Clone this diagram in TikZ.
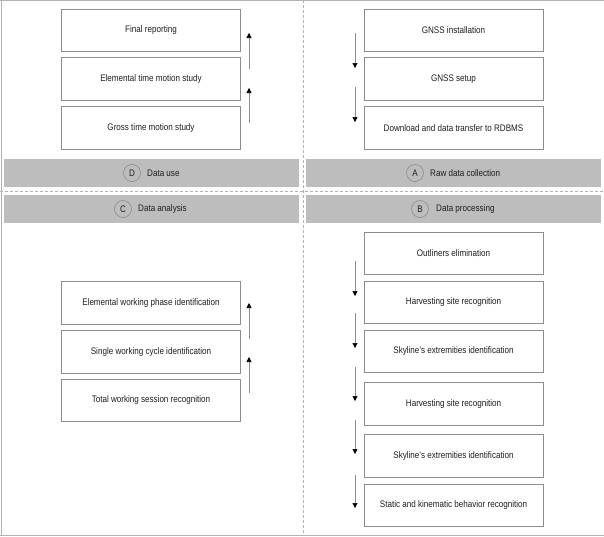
\documentclass[tikz,border=0pt]{standalone}
\usepackage{fontspec}
\setmainfont[FakeStretch=0.85]{Liberation Sans}
\usetikzlibrary{arrows.meta}
\definecolor{boxline}{gray}{0.55}
\definecolor{barfill}{gray}{0.74}
\definecolor{txt}{gray}{0.12}
\begin{document}
\begin{tikzpicture}[x=1pt,y=-1pt,
  stepbox/.style={draw=boxline,line width=0.6pt,fill=white,minimum width=179pt,minimum height=42.5pt,inner sep=0pt,font=\fontsize{9.5}{11}\selectfont,text=txt},
  bar/.style={fill=barfill,draw=none,minimum width=295pt,minimum height=28pt,inner sep=0pt},
  letter/.style={circle,draw=boxline,line width=0.6pt,minimum size=17pt,inner sep=0pt,font=\fontsize{9.5}{11}\selectfont,text=txt},
  bartext/.style={font=\fontsize{9.5}{11}\selectfont,text=txt,inner sep=0pt,anchor=west},
  flow/.style={draw=boxline,line width=0.6pt,-{Triangle[width=5pt,length=5pt,color=black]}},
  divider/.style={draw=gray!60,line width=0.7pt,dash pattern=on 3pt off 2pt},
  frame/.style={draw=gray!60,line width=1pt}]
\useasboundingbox (0,0) rectangle (604,536);
% frame
\draw[frame] (0,0.5) -- (604,0.5);
\draw[frame] (1,0) -- (1,536);
\draw[frame] (0,535) -- (604,535);
% dividers
\draw[divider] (303,0) -- (303,536);
\draw[divider] (0,191) -- (604,191);
% bars
\node[bar] (barD) at (151.5,173) {};
\node[bar] (barC) at (151.5,209) {};
\node[bar] (barA) at (453.5,173) {};
\node[bar] (barB) at (453.5,209) {};
\node[letter,fill=barfill] (cD) at (132,173) {D};
\node[bartext] (tD) at (147,173) {Data use};
\node[letter,fill=barfill] (cC) at (123,209) {C};
\node[bartext] (tC) at (138,209) {Data analysis};
\node[letter,fill=barfill] (cA) at (415,173) {A};
\node[bartext] (tA) at (430,173) {Raw data collection};
\node[letter,fill=barfill] (cB) at (420,209) {B};
\node[bartext] (tB) at (436,209) {Data processing};
% D: data use
\node[stepbox] (d1) at (151,30.5) {Final reporting};
\node[stepbox] (d2) at (151,79) {Elemental time motion study};
\node[stepbox] (d3) at (151,128) {Gross time motion study};
\coordinate (da1s) at (249,123); \coordinate (da1e) at (249,88);
\coordinate (da2s) at (249,69); \coordinate (da2e) at (249,33);
\draw[flow] (da1s) -- (da1e);
\draw[flow] (da2s) -- (da2e);
% A: raw data collection
\node[stepbox] (a1) at (453.5,30.5) {GNSS installation};
\node[stepbox] (a2) at (453.5,79) {GNSS setup};
\node[stepbox] (a3) at (453.5,128) {Download and data transfer to RDBMS};
\coordinate (aa1s) at (355,33); \coordinate (aa1e) at (355,68);
\coordinate (aa2s) at (355,87); \coordinate (aa2e) at (355,122);
\draw[flow] (aa1s) -- (aa1e);
\draw[flow] (aa2s) -- (aa2e);
% C: data analysis
\node[stepbox] (c1) at (151,303) {Elemental working phase identification};
\node[stepbox] (c2) at (151,352) {Single working cycle identification};
\node[stepbox] (c3) at (151,400.5) {Total working session recognition};
\coordinate (ca1s) at (249,393); \coordinate (ca1e) at (249,357);
\coordinate (ca2s) at (249,339); \coordinate (ca2e) at (249,303);
\draw[flow] (ca1s) -- (ca1e);
\draw[flow] (ca2s) -- (ca2e);
% B: data processing
\node[stepbox] (b1) at (453.5,253.5) {Outliners elimination};
\node[stepbox] (b2) at (453.5,302.5) {Harvesting site recognition};
\node[stepbox] (b3) at (453.5,351.5) {Skyline’s extremities identification};
\node[stepbox] (b4) at (453.5,404) {Harvesting site recognition};
\node[stepbox] (b5) at (453.5,456) {Skyline’s extremities identification};
\node[stepbox] (b6) at (453.5,505.5) {Static and kinematic behavior recognition};
\coordinate (ba1s) at (355,261); \coordinate (ba1e) at (355,296);
\coordinate (ba2s) at (355,313); \coordinate (ba2e) at (355,348);
\coordinate (ba3s) at (355,367); \coordinate (ba3e) at (355,401);
\coordinate (ba4s) at (355,420); \coordinate (ba4e) at (355,454);
\coordinate (ba5s) at (355,475); \coordinate (ba5e) at (355,508);
\draw[flow] (ba1s) -- (ba1e);
\draw[flow] (ba2s) -- (ba2e);
\draw[flow] (ba3s) -- (ba3e);
\draw[flow] (ba4s) -- (ba4e);
\draw[flow] (ba5s) -- (ba5e);
\end{tikzpicture}
\end{document}
